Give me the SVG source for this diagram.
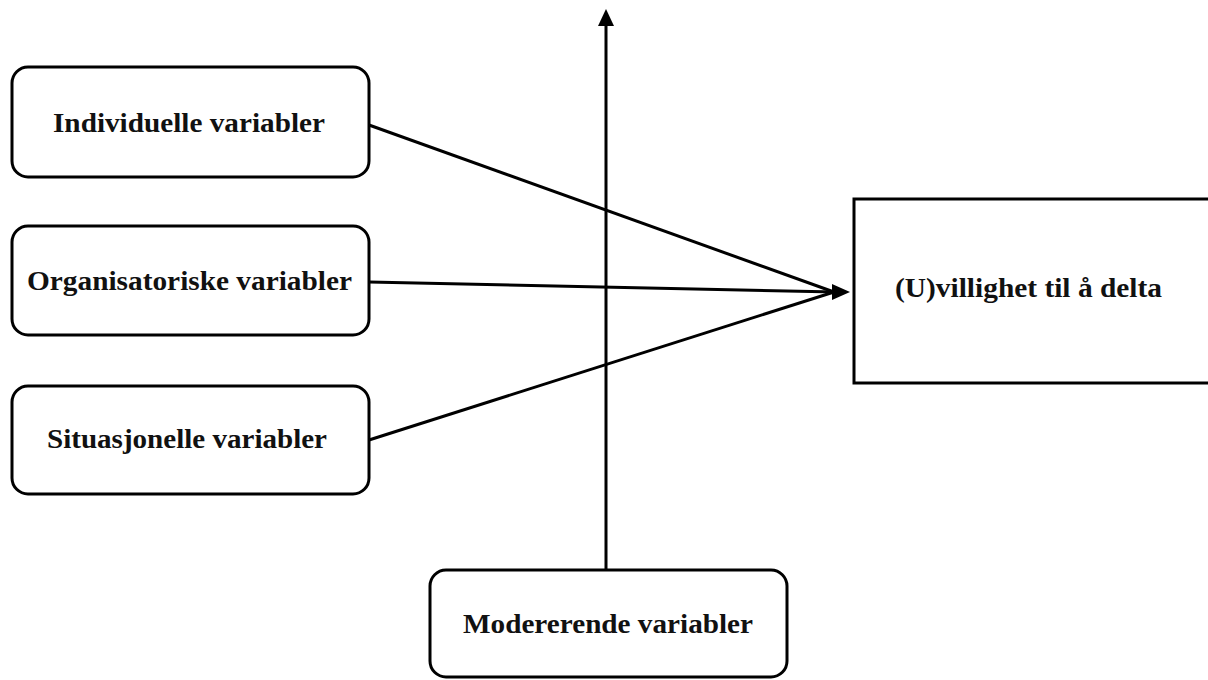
<svg xmlns="http://www.w3.org/2000/svg" width="1208" height="680" viewBox="0 0 1208 680">
<style>
.box{fill:#fff;stroke:#000;stroke-width:3}
.t{font-family:"Liberation Serif","Times New Roman",serif;font-weight:bold;font-size:27px;fill:#111}
.c{stroke:#000;stroke-width:3;fill:none}
.head{fill:#000;stroke:none}
</style>
<rect width="1208" height="680" fill="#fff"/>
<g id="connectors">
<line class="c" x1="606" y1="570" x2="606" y2="22"/>
<polygon class="head" points="606,9 598,26 614,26"/>
<line class="c" x1="369" y1="125" x2="834" y2="292"/>
<line class="c" x1="369" y1="282" x2="836" y2="292"/>
<line class="c" x1="369" y1="440" x2="834" y2="292"/>
<polygon class="head" points="850,292 832,284 832,300"/>
</g>
<g id="individuelle">
<rect class="box" x="12" y="67" width="357" height="110" rx="16"/>
<text class="t" x="53" y="132" textLength="272" lengthAdjust="spacingAndGlyphs">Individuelle variabler</text>
</g>
<g id="organisatoriske">
<rect class="box" x="12" y="226" width="357" height="109" rx="16"/>
<text class="t" x="27" y="290" textLength="325" lengthAdjust="spacingAndGlyphs">Organisatoriske variabler</text>
</g>
<g id="situasjonelle">
<rect class="box" x="12" y="386" width="357" height="108" rx="16"/>
<text class="t" x="47" y="448" textLength="280" lengthAdjust="spacingAndGlyphs">Situasjonelle variabler</text>
</g>
<g id="utfall">
<rect class="box" x="854" y="199" width="360" height="184"/>
<text class="t" x="895" y="297" textLength="267" lengthAdjust="spacingAndGlyphs">(U)villighet til å delta</text>
</g>
<g id="modererende">
<rect class="box" x="430" y="570" width="357" height="107" rx="16"/>
<text class="t" x="463" y="633" textLength="290" lengthAdjust="spacingAndGlyphs">Modererende variabler</text>
</g>
</svg>
